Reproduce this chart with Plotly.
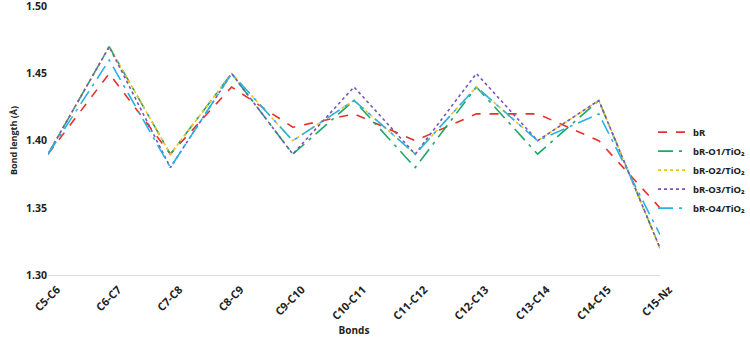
import plotly.graph_objects as go

bonds = ["C5-C6", "C6-C7", "C7-C8", "C8-C9", "C9-C10", "C10-C11", "C11-C12",
         "C12-C13", "C13-C14", "C14-C15", "C15-Nz"]
bR    = [1.39, 1.45, 1.39, 1.44, 1.41, 1.42, 1.40, 1.42, 1.42, 1.40, 1.35]
bR_O1 = [1.39, 1.47, 1.39, 1.45, 1.39, 1.43, 1.38, 1.44, 1.39, 1.43, 1.32]
bR_O2 = [1.39, 1.47, 1.39, 1.45, 1.40, 1.43, 1.39, 1.44, 1.40, 1.43, 1.32]
bR_O3 = [1.39, 1.47, 1.38, 1.45, 1.39, 1.44, 1.39, 1.45, 1.40, 1.43, 1.32]
bR_O4 = [1.39, 1.46, 1.38, 1.45, 1.40, 1.43, 1.39, 1.44, 1.40, 1.42, 1.33]
y_ticks = [1.30, 1.35, 1.40, 1.45, 1.50]

series = [
    ("bR", bR, "#e8302c", "dash"),
    ("bR-O1/TiO\u2082", bR_O1, "#1ea868", "longdashdot"),
    ("bR-O2/TiO\u2082", bR_O2, "#f2c21b", "dot"),
    ("bR-O3/TiO\u2082", bR_O3, "#7b52be", "dot"),
    ("bR-O4/TiO\u2082", bR_O4, "#27b3e6", "longdashdot"),
]

fig = go.Figure()
for name, vals, color, dash in series:
    fig.add_trace(go.Scatter(x=bonds, y=vals, name=name, mode="lines",
                             line=dict(color=color, width=1.6, dash=dash)))

fig.update_layout(
    width=750, height=339,
    margin=dict(l=48, r=90, t=6, b=64, autoexpand=False),
    paper_bgcolor="white", plot_bgcolor="white",
    font=dict(family="Open Sans", size=10, color="#222", weight="bold"),
    legend=dict(x=0.9886, y=0.39, yanchor="middle", xanchor="left",
                font=dict(family="Noto Sans", size=9.5, color="#222", weight="bold"),
                tracegroupgap=0, itemwidth=30, bgcolor="rgba(0,0,0,0)"),
    xaxis=dict(title=dict(text="Bonds", standoff=0,
                          font=dict(family="Open Sans", size=10, weight="bold")),
               automargin=False,
               tickangle=-45, showgrid=False, showline=True, linecolor="#d9d9d9",
               ticks="", ticklabelshift=9, ticklabelstandoff=3,
               tickfont=dict(family="Open Sans", size=11, weight="bold")),
    yaxis=dict(title=dict(text="Bond length (Å)", standoff=6,
                          font=dict(family="Open Sans", size=9, weight="bold")),
               automargin=False, ticklabeloverflow="allow",
               range=[1.30, 1.5003], tickvals=y_ticks, tickformat=".2f",
               showgrid=False, zeroline=False, showline=False, ticks="",
               tickfont=dict(family="Open Sans", size=10.5, weight="bold")),
)
fig.write_html("out.html", config={"displayModeBar": False},
               post_script="document.body.style.margin='0';")
